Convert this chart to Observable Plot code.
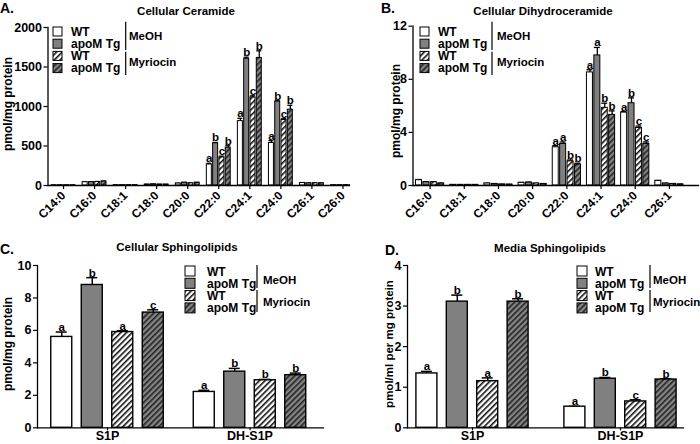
<!DOCTYPE html>
<html><head><meta charset="utf-8">
<script src="https://cdn.jsdelivr.net/npm/d3@7"></script>
<script src="https://cdn.jsdelivr.net/npm/@observablehq/plot@0.6"></script>
<style>
html,body{margin:0;padding:0;background:#fff;}
#root{position:relative;width:700px;height:444px;overflow:hidden;background:#fff;font-family:"Liberation Sans",Arial,sans-serif;}
.panel{position:absolute;overflow:hidden;}
.panel svg{max-width:none !important;background:transparent !important;display:block;}
#overlay{position:absolute;left:0;top:0;}
</style></head><body>
<svg width="0" height="0" style="position:absolute">
<defs>
<pattern id="hatchLight" patternUnits="userSpaceOnUse" width="4" height="4" patternTransform="rotate(45)">
<rect width="4" height="4" fill="#fff"/><rect x="0" y="0" width="1.6" height="4" fill="#111"/></pattern>
<pattern id="hatchDark" patternUnits="userSpaceOnUse" width="4" height="4" patternTransform="rotate(45)">
<rect width="4" height="4" fill="#858585"/><rect x="0" y="0" width="1.6" height="4" fill="#222"/></pattern>
</defs></svg>
<div id="root"></div>
<script>
// ---------- data ----------
const groupNames = ["WT", "apoM Tg", "WT", "apoM Tg"];
const treatments = ["MeOH", "Myriocin"];

// A. Cellular Ceramide (pmol/mg protein)
const ceramideSpecies = ["C14:0","C16:0","C18:1","C18:0","C20:0","C22:0","C24:1","C24:0","C26:1","C26:0"];
const ceramideWtMeOH   = [3, 42, 4, 12, 25, 266, 815, 538, 32, 4];
const ceramideTgMeOH   = [3, 42, 4, 15, 35, 535, 1604, 1062, 28, 4];
const ceramideWtMyr    = [3, 45, 4, 12, 28, 356, 1115, 830, 28, 4];
const ceramideTgMyr    = [3, 50, 4, 12, 35, 478, 1615, 960, 28, 4];
const ceramideErrWtMeOH = [1, 5, 1, 2, 3, 15, 35, 30, 3, 1];
const ceramideErrTgMeOH = [1, 5, 1, 2, 4, 10, 20, 10, 3, 1];
const ceramideErrWtMyr  = [1, 5, 1, 2, 3, 15, 20, 15, 3, 1];
const ceramideErrTgMyr  = [1, 6, 1, 2, 4, 25, 90, 55, 3, 1];
const ceramideLetters = ["", "", "", "", "", "abcb", "abcb", "abcb", "", ""];
const ceramideTicks = [0, 500, 1000, 1500, 2000];

// B. Cellular Dihydroceramide (pmol/mg protein)
const dhSpecies = ["C16:0","C18:1","C18:0","C20:0","C22:0","C24:1","C24:0","C26:1"];
const dhWtMeOH = [0.40, 0.05, 0.15, 0.20, 2.88, 8.52, 5.49, 0.35];
const dhTgMeOH = [0.25, 0.05, 0.12, 0.22, 3.13, 9.80, 6.20, 0.15];
const dhWtMyr  = [0.25, 0.05, 0.08, 0.15, 1.82, 5.85, 4.33, 0.12];
const dhTgMyr  = [0.15, 0.05, 0.07, 0.12, 1.58, 5.32, 3.13, 0.08];
const dhErrWtMeOH = [0.05, 0.01, 0.02, 0.03, 0.12, 0.20, 0.08, 0.03];
const dhErrTgMeOH = [0.04, 0.01, 0.02, 0.03, 0.15, 0.60, 0.40, 0.02];
const dhErrWtMyr  = [0.03, 0.01, 0.01, 0.02, 0.10, 0.35, 0.15, 0.02];
const dhErrTgMyr  = [0.03, 0.01, 0.01, 0.02, 0.10, 0.30, 0.15, 0.02];
const dhLetters = ["", "", "", "", "aabb", "aabb", "abcc", ""];
const dhTicks = [0, 4, 8, 12];

// C. Cellular Sphingolipids (pmol/mg protein)
const lipidCats = ["S1P", "DH-S1P"];
const cellWtMeOH = [5.60, 2.21];
const cellTgMeOH = [8.80, 3.46];
const cellWtMyr  = [5.90, 2.93];
const cellTgMyr  = [7.10, 3.24];
const cellErrWtMeOH = [0.30, 0.10];
const cellErrTgMeOH = [0.45, 0.20];
const cellErrWtMyr  = [0.08, 0.05];
const cellErrTgMyr  = [0.17, 0.13];
const cellLetters = ["abac", "abbb"];
const cellTicks = [0, 2, 4, 6, 8, 10];

// D. Media Sphingolipids (pmol/ml per mg protein)
const mediaWtMeOH = [1.34, 0.52];
const mediaTgMeOH = [3.11, 1.21];
const mediaWtMyr  = [1.15, 0.65];
const mediaTgMyr  = [3.11, 1.19];
const mediaErrWtMeOH = [0.05, 0.01];
const mediaErrTgMeOH = [0.16, 0.03];
const mediaErrWtMyr  = [0.08, 0.04];
const mediaErrTgMyr  = [0.07, 0.02];
const mediaLetters = ["abab", "abcb"];
const mediaTicks = [0, 1, 2, 3, 4];

// ---------- styling ----------
const FONT = '"Liberation Sans", Arial, Helvetica, sans-serif';
const fills = ["#ffffff", "#808080", "url(#hatchLight)", "url(#hatchDark)"];
const root = document.getElementById("root");

function makePanel(cfg) {
  const rows = [];
  cfg.cats.forEach((c, ci) => {
    for (let g = 0; g < 4; g++) {
      rows.push({cat: c, g, v: cfg.vals[g][ci], e: cfg.errs[g][ci], L: (cfg.letters[ci] || "")[g] || ""});
    }
  });
  const band = (cfg.range[1] - cfg.range[0]) / cfg.cats.length;
  const marks = [];
  for (let g = 0; g < 4; g++) {
    const off = (g - 1.5) * cfg.pitch;
    const d = rows.filter(r => r.g === g);
    marks.push(Plot.ruleX(d, {x: "cat", y1: "v", y2: r => r.v + r.e, dx: off, stroke: "#000", strokeWidth: cfg.ebW}));
    marks.push(Plot.tickY(d, {x: "cat", y: r => r.v + r.e, dx: off, insetLeft: (band - cfg.capW) / 2, insetRight: (band - cfg.capW) / 2, stroke: "#000", strokeWidth: cfg.ebW}));
    marks.push(Plot.barY(d, {x: "cat", y: "v", dx: off, fill: fills[g], stroke: "#000", strokeWidth: cfg.barSW,
      insetLeft: (band - cfg.barW) / 2, insetRight: (band - cfg.barW) / 2}));
    marks.push(Plot.text(d.filter(r => r.L), {x: "cat", y: r => r.v + r.e, text: "L", dx: off, dy: cfg.letterDy, lineAnchor: "bottom",
      fontSize: cfg.letterSize, fontWeight: "bold", fill: "#000"}));
  }
  marks.push(Plot.frame({anchor: "left", stroke: "#000", strokeWidth: 1.3}));
  marks.push(Plot.frame({anchor: "bottom", stroke: "#000", strokeWidth: 1.3}));
  marks.push(Plot.axisY({ticks: cfg.yTicks, tickFormat: d3.format("d"), tickSize: 4, tickPadding: 2, fontSize: cfg.yFont, fontWeight: "bold", label: null, stroke: "#000", strokeWidth: 1.2}));
  marks.push(Plot.axisX({tickSize: cfg.xTickSize, tickPadding: cfg.xTickPadding, tickRotate: cfg.rotate, fontSize: cfg.xFont, fontWeight: "bold", label: null, stroke: "#000", strokeWidth: 1.2}));

  const plot = Plot.plot({
    width: cfg.width, height: cfg.height,
    marginLeft: cfg.ml, marginRight: cfg.mr, marginTop: cfg.mt, marginBottom: cfg.mb,
    x: {type: "band", domain: cfg.cats, range: cfg.range, padding: 0, round: false},
    y: {domain: cfg.yDomain},
    style: {fontFamily: FONT, fontWeight: "bold", color: "#000", background: "transparent", overflow: "visible"},
    marks
  });
  const wrap = document.createElement("div");
  wrap.className = "panel";
  wrap.style.left = cfg.left + "px";
  wrap.style.top = cfg.top + "px";
  wrap.style.width = cfg.clipW + "px";
  wrap.style.height = cfg.height + "px";
  plot.style.maxWidth = "none";
  wrap.appendChild(plot);
  root.appendChild(wrap);
}

// A
makePanel({
  cats: ceramideSpecies,
  vals: [ceramideWtMeOH, ceramideTgMeOH, ceramideWtMyr, ceramideTgMyr],
  errs: [ceramideErrWtMeOH, ceramideErrTgMeOH, ceramideErrWtMyr, ceramideErrTgMyr],
  letters: ceramideLetters, yTicks: ceramideTicks, yDomain: [0, 2000],
  left: 0, top: 0, width: 358, clipW: 350, height: 222,
  ml: 47.5, mr: 0, mt: 27, mb: 37, range: [47.5, 358],
  barW: 5, pitch: 6.3, capW: 5, barSW: 1, ebW: 1.3,
  letterSize: 11.5, letterDy: -1, yFont: 12.5, xFont: 12, rotate: -45, xTickSize: 4, xTickPadding: 4
});
// B
makePanel({
  cats: dhSpecies,
  vals: [dhWtMeOH, dhTgMeOH, dhWtMyr, dhTgMyr],
  errs: [dhErrWtMeOH, dhErrTgMeOH, dhErrWtMyr, dhErrTgMyr],
  letters: dhLetters, yTicks: dhTicks, yDomain: [0, 12],
  left: 350, top: 0, width: 350, clipW: 350, height: 222,
  ml: 62.5, mr: 2, mt: 25.7, mb: 37, range: [62.5, 336],
  barW: 6, pitch: 7.4, capW: 6, barSW: 1, ebW: 1.3,
  letterSize: 11.5, letterDy: -1, yFont: 12.5, xFont: 12, rotate: -45, xTickSize: 4, xTickPadding: 4
});
// C
makePanel({
  cats: lipidCats,
  vals: [cellWtMeOH, cellTgMeOH, cellWtMyr, cellTgMyr],
  errs: [cellErrWtMeOH, cellErrTgMeOH, cellErrWtMyr, cellErrTgMyr],
  letters: cellLetters, yTicks: cellTicks, yDomain: [0, 10],
  left: 0, top: 222, width: 350, clipW: 350, height: 222,
  ml: 37, mr: 27, mt: 43, mb: 16.7, range: [35.75, 320.75],
  barW: 21, pitch: 30.5, capW: 11, barSW: 1.4, ebW: 1.5,
  letterSize: 11.5, letterDy: -1, yFont: 12.5, xFont: 12.5, rotate: 0, xTickSize: 3, xTickPadding: 0
});
// D
makePanel({
  cats: lipidCats,
  vals: [mediaWtMeOH, mediaTgMeOH, mediaWtMyr, mediaTgMyr],
  errs: [mediaErrWtMeOH, mediaErrTgMeOH, mediaErrWtMyr, mediaErrTgMyr],
  letters: mediaLetters, yTicks: mediaTicks, yDomain: [0, 4],
  left: 350, top: 222, width: 350, clipW: 350, height: 222,
  ml: 57, mr: 17, mt: 43, mb: 16.7, range: [48, 344],
  barW: 21, pitch: 30.4, capW: 11, barSW: 1.4, ebW: 1.5,
  letterSize: 11.5, letterDy: -1, yFont: 12.5, xFont: 12.5, rotate: 0, xTickSize: 3, xTickPadding: 0
});

// ---------- overlay: panel letters, titles, axis titles, legends ----------
const svg = d3.select(root).append("svg").attr("id", "overlay")
  .attr("width", 700).attr("height", 444)
  .style("font-family", FONT).style("font-weight", "bold");

const texts = [
  {t: "A.", x: 0, y: 13, s: 14, a: "start"},
  {t: "B.", x: 381, y: 13, s: 14, a: "start"},
  {t: "C.", x: 0, y: 254, s: 14, a: "start"},
  {t: "D.", x: 385, y: 255, s: 14, a: "start"},
  {t: "Cellular Ceramide", x: 186, y: 15, s: 11.5, a: "middle"},
  {t: "Cellular Dihydroceramide", x: 543, y: 15, s: 11.5, a: "middle"},
  {t: "Cellular Sphingolipids", x: 177, y: 251, s: 11.5, a: "middle"},
  {t: "Media Sphingolipids", x: 550, y: 252, s: 11.5, a: "middle"}
];
texts.forEach(d => svg.append("text").attr("x", d.x).attr("y", d.y).attr("font-size", d.s)
  .attr("text-anchor", d.a).text(d.t));

const ylabels = [
  {t: "pmol/mg protein", x: 12, y: 104, s: 12},
  {t: "pmol/mg protein", x: 400, y: 111, s: 12},
  {t: "pmol/mg protein", x: 12, y: 344, s: 12},
  {t: "pmol/ml per mg protein", x: 393, y: 344, s: 11.5}
];
ylabels.forEach(d => svg.append("text").attr("transform", `translate(${d.x},${d.y}) rotate(-90)`)
  .attr("font-size", d.s).attr("text-anchor", "middle").text(d.t));

function legend(o) {
  const g = svg.append("g");
  for (let i = 0; i < 4; i++) {
    const y = o.by + i * o.pitch;
    g.append("rect").attr("x", o.bx).attr("y", y).attr("width", o.box).attr("height", o.box)
      .attr("fill", fills[i]).attr("stroke", "#000").attr("stroke-width", 1);
    g.append("text").attr("x", o.tx).attr("y", y + o.box - 0.5).attr("font-size", 12).text(groupNames[i]);
  }
  g.append("line").attr("x1", o.lx).attr("x2", o.lx).attr("y1", o.l1[0]).attr("y2", o.l1[1]).attr("stroke", "#000").attr("stroke-width", 1.2);
  g.append("line").attr("x1", o.lx).attr("x2", o.lx).attr("y1", o.l2[0]).attr("y2", o.l2[1]).attr("stroke", "#000").attr("stroke-width", 1.2);
  g.append("text").attr("x", o.gx).attr("y", o.g1y).attr("font-size", 11.5).text(treatments[0]);
  g.append("text").attr("x", o.gx).attr("y", o.g2y).attr("font-size", 11.5).text(treatments[1]);
}
legend({bx: 53, by: 27, pitch: 12.2, box: 9, tx: 71, lx: 125.7, l1: [21.7, 50], l2: [51.7, 75], gx: 129, g1y: 40, g2y: 66});
legend({bx: 420, by: 27, pitch: 12.2, box: 9, tx: 438, lx: 492, l1: [21.7, 50], l2: [51.7, 75], gx: 497, g1y: 40, g2y: 66});
legend({bx: 185, by: 266, pitch: 12.3, box: 10, tx: 207, lx: 257, l1: [265, 288], l2: [290, 312], gx: 263, g1y: 284, g2y: 306});
legend({bx: 577, by: 266, pitch: 12.3, box: 10, tx: 595, lx: 650, l1: [265, 288], l2: [290, 312], gx: 653, g1y: 284, g2y: 306});
</script>
</body></html>
